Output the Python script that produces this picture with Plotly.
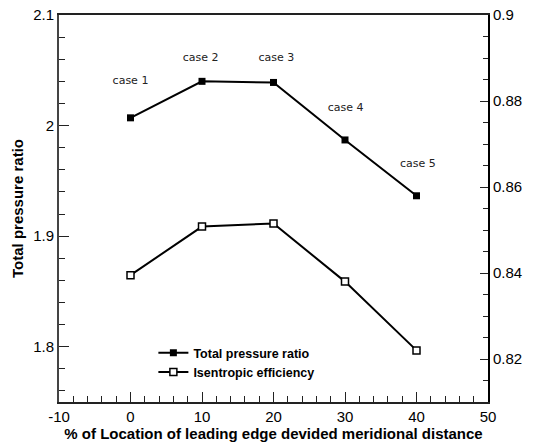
import plotly.graph_objects as go

x_loc = [0, 10, 20, 30, 40]
pressure_ratio = [2.007, 2.040, 2.039, 1.987, 1.9365]
efficiency = [0.8395, 0.8508, 0.8515, 0.838, 0.822]
case_labels = ["case 1", "case 2", "case 3", "case 4", "case 5"]
case_x = [0, 9.8, 20.4, 30.1, 40.2]
case_y = [2.040, 2.061, 2.061, 2.016, 1.965]
x_tickvals = [-10, 0, 10, 20, 30, 40, 50]
x_ticktext = ["-10", "0", "10", "20", "30", "40", "50"]

fig = go.Figure()
fig.add_trace(go.Scatter(
    x=x_loc, y=pressure_ratio, name="Total pressure ratio",
    mode="lines+markers",
    line=dict(color="black", width=2),
    marker=dict(symbol="square", size=7, color="black"),
))
fig.add_trace(go.Scatter(
    x=x_loc, y=efficiency, name="Isentropic efficiency", yaxis="y2",
    mode="lines+markers",
    line=dict(color="black", width=2),
    marker=dict(symbol="square", size=7, color="white",
                line=dict(color="black", width=1.5)),
))
fig.add_trace(go.Scatter(
    x=case_x, y=case_y, mode="text", text=case_labels, showlegend=False,
    textfont=dict(family="DejaVu Sans", size=11, color="#222"),
    hoverinfo="skip",
))

axis_font = dict(family="Liberation Sans", size=15, color="black")
title_font = dict(family="Liberation Sans", size=15, color="black", weight="bold")
fig.update_layout(
    width=534, height=442,
    margin=dict(l=59, r=46, t=15, b=40),
    paper_bgcolor="white", plot_bgcolor="white",
    showlegend=True,
    legend=dict(x=0.22, y=0.165, xanchor="left", yanchor="top",
                bgcolor="rgba(0,0,0,0)", itemwidth=30,
                font=dict(family="Liberation Sans", size=12.5, color="black", weight="bold"),
                tracegroupgap=0),
    xaxis=dict(
        range=[-10, 50], tickvals=x_tickvals, ticktext=x_ticktext,
        showgrid=False, zeroline=False, automargin=False,
        showline=True, linecolor="#222", linewidth=2, mirror=True,
        ticks="inside", ticklen=10, tickwidth=1, tickcolor="#222",
        minor=dict(dtick=2, tick0=0, ticks="inside", ticklen=6, tickcolor="#222"),
        tickfont=axis_font,
        title=dict(text="% of Location of leading edge devided meridional distance",
                   font=title_font, standoff=4),
    ),
    yaxis=dict(
        range=[1.75, 2.1], dtick=0.1, tick0=1.8,
        showgrid=False, zeroline=False, automargin=False,
        showline=True, linecolor="#444", linewidth=2,
        ticks="inside", ticklen=10, tickwidth=1, tickcolor="#222",
        minor=dict(dtick=0.02, ticks="inside", ticklen=6, tickcolor="#222"),
        tickfont=axis_font,
        title=dict(text="Total pressure ratio", font=title_font, standoff=6),
    ),
    yaxis2=dict(
        range=[0.81, 0.9], dtick=0.02, tick0=0.82,
        overlaying="y", side="right", automargin=False,
        showgrid=False, zeroline=False,
        showline=True, linecolor="black", linewidth=2,
        ticks="inside", ticklen=8, tickwidth=1, tickcolor="#222",
        minor=dict(dtick=0.005, ticks="inside", ticklen=5, tickcolor="#222"),
        tickfont=axis_font,
    ),
)

fig.write_html("out.html")
